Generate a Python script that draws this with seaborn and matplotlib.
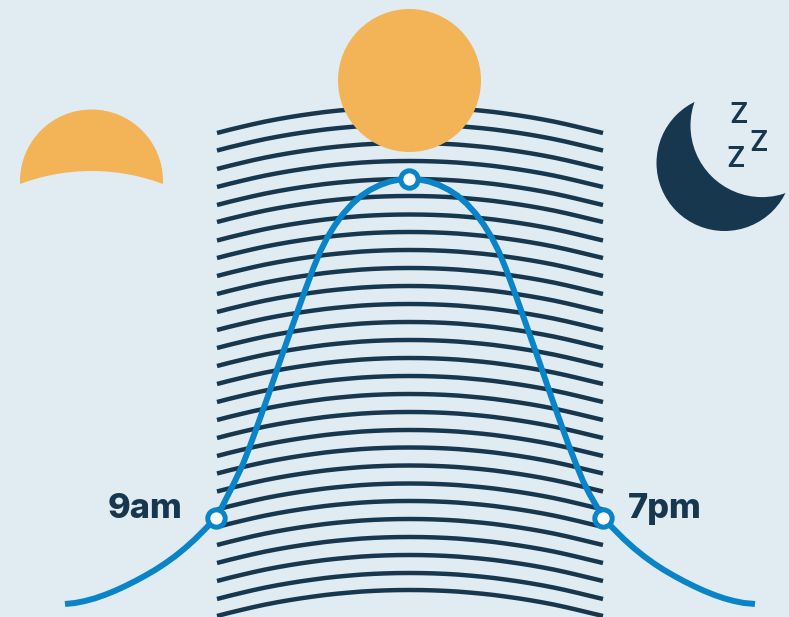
import matplotlib
matplotlib.use("Agg")
import matplotlib.pyplot as plt
from matplotlib.patches import Circle
import pandas as pd
import seaborn as sns

BG = "#E1EBF2"
NAVY = "#17374F"
BLUE = "#0A84C8"
ORANGE = "#F2B457"

# Left-edge height of each horizontal band line (px-scale units of the chart)
band_edge_y = [133, 150.5, 169, 187, 205, 222, 240.5, 258, 276, 294, 312, 330, 348, 366,
               384, 402, 420, 438, 456, 473.5, 491.5, 509.5, 527, 545, 563, 581, 599, 616]
# Shared profile of the band lines: x position and rise above the edge height
band_x = [217, 229, 241, 253, 265, 277, 289, 301, 313, 325, 337, 349, 361, 373, 385, 397, 409.5,
          422, 434, 446, 458, 470, 482, 494, 506, 518, 530, 542, 554, 566, 578, 590, 603]
band_rise = [0, 3.1, 6, 8.8, 11.4, 13.7, 15.8, 17.7, 19.4, 21, 22.3, 23.4, 24.4, 25.1, 25.6, 25.9, 26,
             25.9, 25.6, 25.1, 24.4, 23.4, 22.3, 21, 19.4, 17.7, 15.8, 13.7, 11.4, 8.8, 6, 3.1, 0]

# Daylight curve
curve_x = [65, 75, 85, 95, 105, 115, 125, 135, 145, 155, 165, 175, 185, 195, 205, 216,
           222, 228, 235, 243, 250, 258, 268, 280, 292, 303, 313, 320, 327, 335, 343, 352,
           361, 370, 380, 390, 400, 409.5,
           419, 429, 439, 449, 458, 467, 476, 484, 492, 499, 506, 516, 527, 539, 551, 561,
           569, 576, 583, 590, 597, 603,
           614, 624, 634, 644, 654, 664, 674, 684, 694, 704, 714, 724, 734, 744, 755]
curve_y = [604, 603, 601, 598.3, 594.8, 590.8, 586.2, 581.2, 575.8, 570, 563.5, 556.3, 548.2, 539.2, 529.2, 518,
           507, 495, 481, 464, 446, 424, 396, 361, 327, 296, 269, 252, 238, 225, 214, 204,
           196, 190, 185, 181.5, 179.5, 179,
           179.5, 181.5, 185, 190, 196, 204, 214, 225, 238, 252, 269, 296, 327, 361, 396, 424,
           446, 464, 481, 495, 507, 518,
           529.2, 539.2, 548.2, 556.3, 563.5, 570, 575.8, 581.2, 586.2, 590.8, 594.8, 598.3, 601, 603, 604]

# Highlighted times
point_x = [216, 409.5, 603]
point_y = [518, 179, 518]
time_labels = ["9am", "7pm"]

sns.set_theme(style="white")
plt.rcParams["font.family"] = ["Inter", "DejaVu Sans"]

fig = plt.figure(figsize=(7.89, 6.17), dpi=100, facecolor=BG)
ax = fig.add_axes([0, 0, 1, 1], facecolor=BG)

bands = pd.DataFrame(
    [{"x": x, "y": edge - rise, "band": i}
     for i, edge in enumerate(band_edge_y)
     for x, rise in zip(band_x, band_rise)]
)
sns.lineplot(data=bands, x="x", y="y", units="band", estimator=None, sort=False,
             color=NAVY, linewidth=3.2, solid_capstyle="butt", solid_joinstyle="round",
             legend=False, ax=ax, zorder=2)

curve = pd.DataFrame({"x": curve_x, "y": curve_y})
sns.lineplot(data=curve, x="x", y="y", estimator=None, sort=False, color=BLUE, linewidth=4.3,
             solid_capstyle="butt", solid_joinstyle="round", legend=False, ax=ax, zorder=3)

points = pd.DataFrame({"x": point_x, "y": point_y})
sns.scatterplot(data=points, x="x", y="y", s=156, color="white", edgecolor=BLUE, linewidth=3.6,
                legend=False, ax=ax, zorder=4)

# Sun overhead
ax.add_patch(Circle((409.5, 80.5), 71.5, color=ORANGE, lw=0, zorder=5))
# Rising sun: disc cut by a large background disc
ax.add_patch(Circle((91.5, 181), 71.5, color=ORANGE, lw=0, zorder=0.5))
ax.add_patch(Circle((91.5, 374), 203, color=BG, lw=0, zorder=1))
# Moon: disc cut by a background disc
ax.add_patch(Circle((724.5, 163), 68, color=NAVY, lw=0, zorder=0.5))
ax.add_patch(Circle((762, 125.6), 71.5, color=BG, lw=0, zorder=1))

ax.text(107.5, 518, time_labels[0], color=NAVY, fontsize=24.8, fontweight=800,
        ha="left", va="baseline", zorder=6)
ax.text(627.5, 518, time_labels[1], color=NAVY, fontsize=24.8, fontweight=800,
        ha="left", va="baseline", zorder=6)
for zx, zy in [(738.5, 123), (758.5, 151), (735.5, 167)]:
    ax.text(zx, zy, "Z", color=NAVY, fontsize=20.5, fontweight=600,
            ha="center", va="baseline", zorder=6)

ax.set_xlim(0, 789)
ax.set_ylim(617, 0)
ax.set_axis_off()
fig.savefig("out.png", dpi=100, facecolor=BG)
